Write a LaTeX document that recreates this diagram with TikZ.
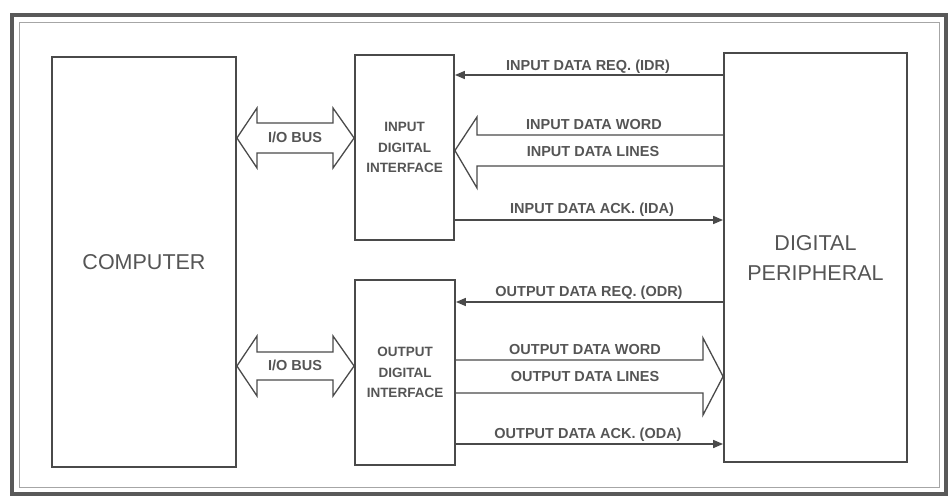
\documentclass[tikz,border=0pt]{standalone}
\usepackage{fontspec}
\setmainfont{Liberation Sans}
\usetikzlibrary{arrows.meta,calc}
\definecolor{ink}{HTML}{4A4A4A}
\definecolor{txt}{HTML}{555555}
\begin{document}
\begin{tikzpicture}[x=1pt,y=-1pt,
  box/.style={draw=ink,line width=1.8pt,fill=white,inner sep=0pt,align=center,text=txt},
  big/.style={font=\fontsize{21.5}{30}\selectfont},
  mid/.style={font=\bfseries\fontsize{13.5}{20.5}\selectfont},
  small/.style={font=\bfseries\fontsize{14.5}{20}\selectfont,text=txt,inner sep=0pt},
  sig/.style={draw=ink,line width=1.6pt,-{Triangle[length=10pt,width=8pt]}},
  fat/.style={draw=ink,line width=1.3pt,line join=miter}]
\useasboundingbox (0,0) rectangle (951,498);
% frame
\draw[line width=4pt,draw=black!65] (12,15) rectangle (946,494);
\draw[line width=0.8pt,draw=black!35] (19,22) rectangle (939,487);
% blocks
\node[box,big,minimum width=184pt,minimum height=410pt] (comp) at (144,262) {COMPUTER};
\node[box,mid,minimum width=99pt,minimum height=185pt] (ini) at (404.5,147.5) {INPUT\\DIGITAL\\INTERFACE};
\node[box,mid,minimum width=100pt,minimum height=185pt] (outi) at (405,372.5) {OUTPUT\\DIGITAL\\INTERFACE};
\node[box,big,minimum width=183pt,minimum height=409pt] (per) at (815.5,257.5) {DIGITAL\\PERIPHERAL};
% helper coordinates
\coordinate (yIDR) at (0,75);
\coordinate (yIDA) at (0,220);
\coordinate (yODR) at (0,302);
\coordinate (yODA) at (0,444);
\coordinate (yB1) at (0,138);
\coordinate (yB2) at (0,366);
\coordinate (yIW1) at (0,135);
\coordinate (yIW2) at (0,166);
\coordinate (yIT) at (0,150.5);
\coordinate (yOW1) at (0,360);
\coordinate (yOW2) at (0,393);
\coordinate (yOT) at (0,376.5);
% I/O buses
\draw[fat] (comp.east |- yB1) -- (257,108) -- (257,123) -- (333,123) -- (333,108) -- (ini.west |- yB1)
  -- (333,168) -- (333,153) -- (257,153) -- (257,168) -- cycle;
\node[small] (bus1) at (295,137) {I/O BUS};
\draw[fat] (comp.east |- yB2) -- (257,336) -- (257,352) -- (333,352) -- (333,336) -- (outi.west |- yB2)
  -- (333,396) -- (333,380) -- (257,380) -- (257,396) -- cycle;
\node[small] (bus2) at (295,365) {I/O BUS};
% input side
\draw[sig] (per.west |- yIDR) -- (ini.east |- yIDR);
\node[small] (lIDR) at (588,67) {INPUT DATA REQ. (IDR)};
\draw[fat] (per.west |- yIW1) -- (477,135) -- (477,117) -- (ini.east |- yIT) -- (477,188) -- (477,166) -- (per.west |- yIW2);
\node[small] (lIW) at (594,125) {INPUT DATA WORD};
\node[small] (lIL) at (593,152) {INPUT DATA LINES};
\draw[sig] (ini.east |- yIDA) -- (per.west |- yIDA);
\node[small] (lIDA) at (592,210) {INPUT DATA ACK. (IDA)};
% output side
\draw[sig] (per.west |- yODR) -- (outi.east |- yODR);
\node[small] (lODR) at (589,293) {OUTPUT DATA REQ. (ODR)};
\draw[fat] (outi.east |- yOW1) -- (703,360) -- (703,338) -- (per.west |- yOT) -- (703,415) -- (703,393) -- (outi.east |- yOW2);
\node[small] (lOW) at (585,350) {OUTPUT DATA WORD};
\node[small] (lOL) at (585,377) {OUTPUT DATA LINES};
\draw[sig] (outi.east |- yODA) -- (per.west |- yODA);
\node[small] (lODA) at (588,435) {OUTPUT DATA ACK. (ODA)};
\end{tikzpicture}
\end{document}
